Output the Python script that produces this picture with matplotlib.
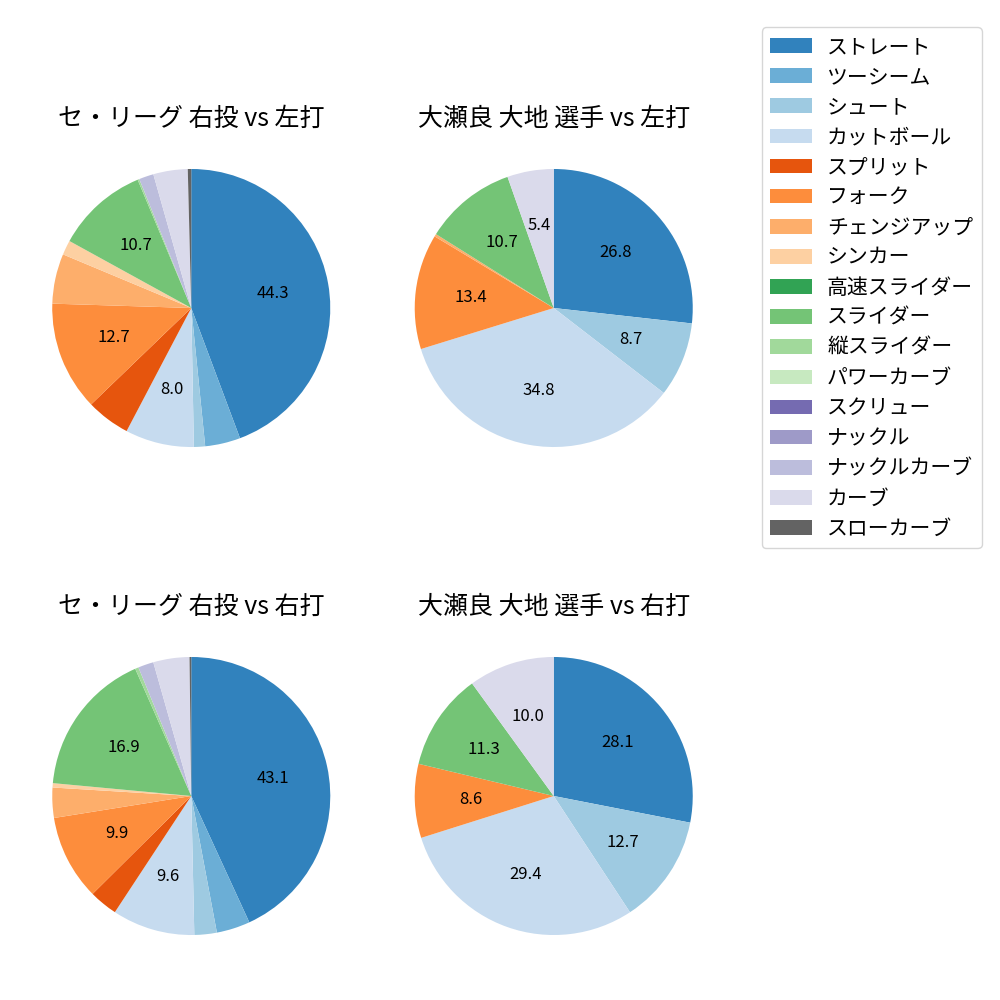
import numpy as np
import matplotlib
matplotlib.use('Agg')
import matplotlib.pyplot as plt
from matplotlib.patches import Patch

plt.rcParams['font.family'] = ['Noto Sans CJK JP', 'DejaVu Sans']

PITCHES = ['ストレート', 'ツーシーム', 'シュート', 'カットボール', 'スプリット', 'フォーク',
           'チェンジアップ', 'シンカー', '高速スライダー', 'スライダー', '縦スライダー',
           'パワーカーブ', 'スクリュー', 'ナックル', 'ナックルカーブ', 'カーブ', 'スローカーブ']

# 割合(%) 球種順
league_vs_left = [44.3, 4.1, 1.3, 8.0, 5.1, 12.7, 5.8, 1.7, 0.0, 10.7, 0.2, 0.0, 0.0, 0.0, 1.7, 4.0, 0.4]
player_vs_left = [26.8, 0.0, 8.7, 34.8, 0.0, 13.4, 0.3, 0.0, 0.0, 10.7, 0.0, 0.0, 0.0, 0.0, 0.0, 5.4, 0.0]
league_vs_right = [43.1, 3.9, 2.6, 9.6, 3.3, 9.9, 3.5, 0.5, 0.0, 16.9, 0.4, 0.0, 0.0, 0.0, 1.8, 4.2, 0.2]
player_vs_right = [28.1, 0.0, 12.7, 29.4, 0.0, 8.6, 0.0, 0.0, 0.0, 11.3, 0.0, 0.0, 0.0, 0.0, 0.0, 10.0, 0.0]

titles = ['セ・リーグ 右投 vs 左打', '大瀬良 大地 選手 vs 左打',
          'セ・リーグ 右投 vs 右打', '大瀬良 大地 選手 vs 右打']
datasets = [league_vs_left, player_vs_left, league_vs_right, player_vs_right]
# ラベルを出す最小割合
label_min = [7.0, 5.0, 7.0, 5.0]

colors = plt.get_cmap('tab20c').colors[:17]


def make_autopct(th):
    def f(p):
        return f'{p:.1f}' if p >= th else ''
    return f


fig, axes = plt.subplots(2, 2, figsize=(10, 10))
fig.subplots_adjust(left=0.0175, right=0.7275, wspace=0.043,
                    top=0.892, bottom=0.004, hspace=0.22)

for ax, vals, title, th in zip(axes.flat, datasets, titles, label_min):
    ax.pie(vals, colors=colors, startangle=90, counterclock=False,
           autopct=make_autopct(th), pctdistance=0.6,
           textprops={'fontsize': 12})
    ax.set_title(title, fontsize=18)

handles = [Patch(facecolor=c) for c in colors]
fig.legend(handles, PITCHES, loc='upper right', bbox_to_anchor=(0.992, 0.983),
           fontsize=15, labelspacing=0.39, handletextpad=0.75)

fig.savefig('out.png', dpi=100)
